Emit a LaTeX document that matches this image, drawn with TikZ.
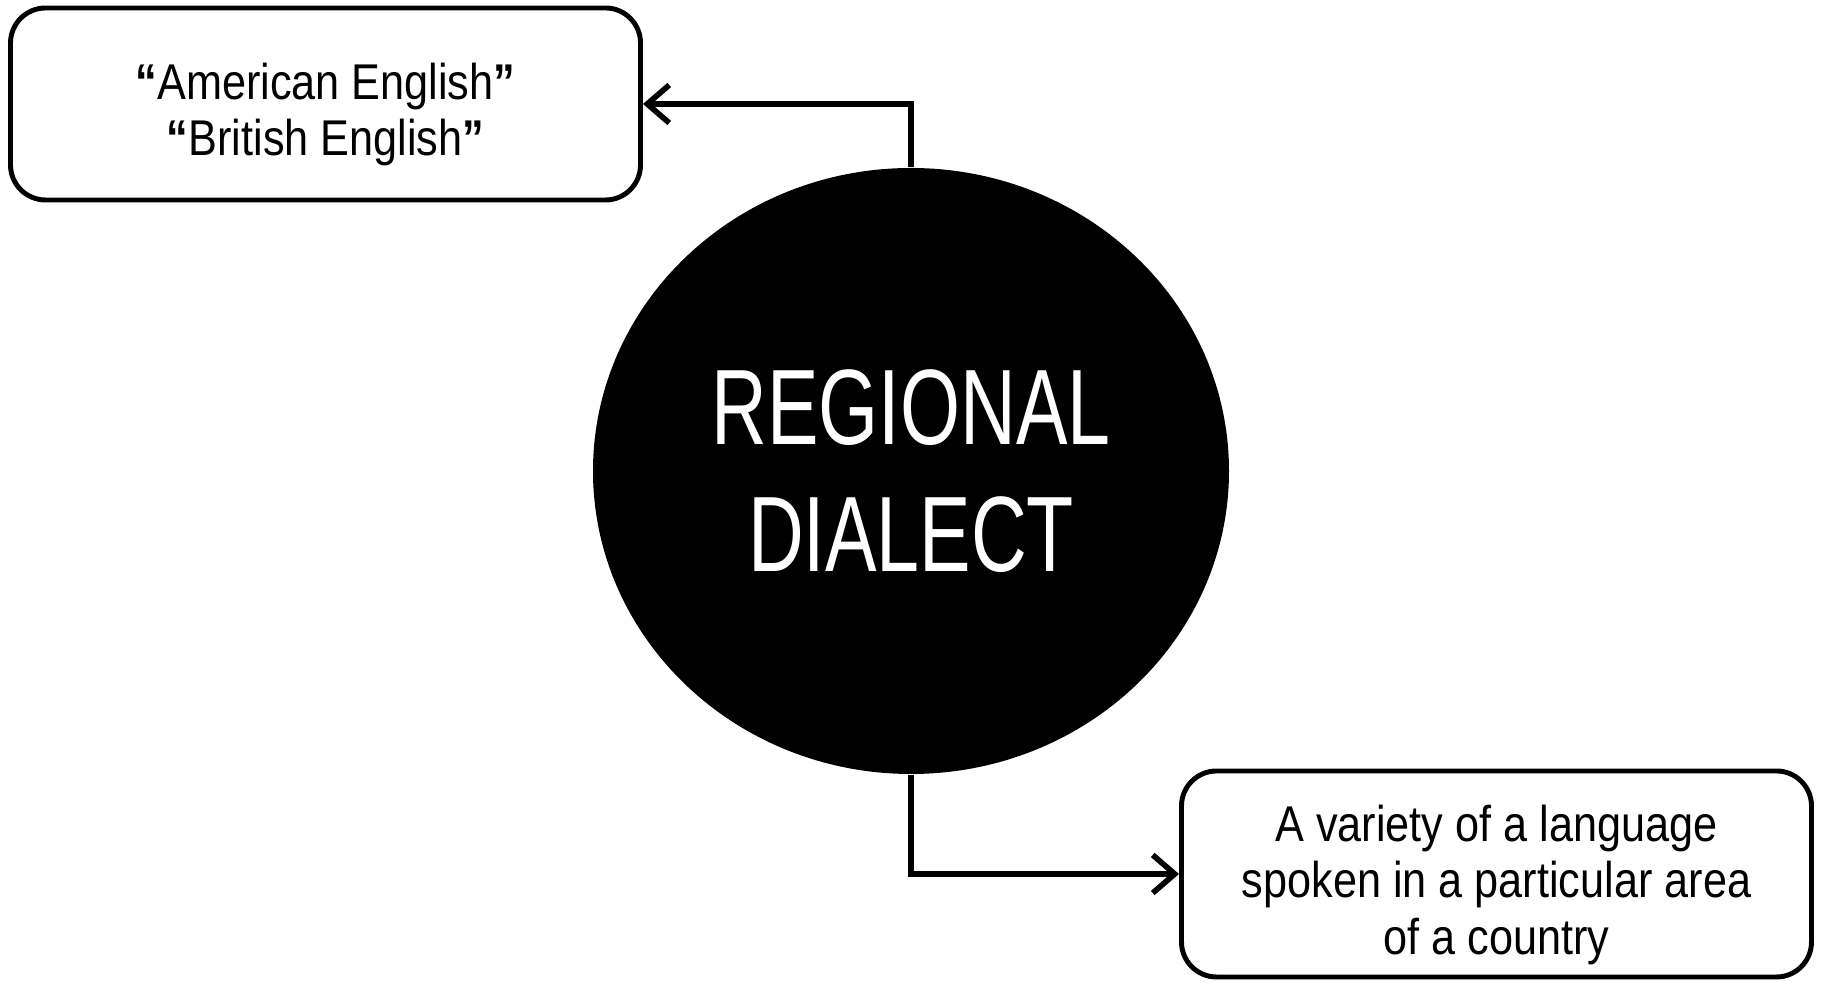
\documentclass[tikz,border=0pt]{standalone}
\usepackage{fontspec}
\setmainfont{Liberation Sans}
\newfontfamily\boxfont{Liberation Sans}[FakeStretch=0.86]
\newfontfamily\bigfont{Liberation Sans}[FakeStretch=0.72]
\usetikzlibrary{shapes.geometric,arrows.meta}

\begin{document}
\begin{tikzpicture}[
    infobox/.style={draw, line width=1.4pt, rounded corners=0.35cm, align=center, fill=white,
      font=\boxfont\fontsize{14.3}{16}\selectfont},
    link/.style={line width=1.6pt, -{Straight Barb[length=0.22cm, width=0.38cm, line width=1.6pt]}}]
      \useasboundingbox (0,0) rectangle (18.23,9.82);

      \node[ellipse, fill=black, minimum width=6.36cm, minimum height=6.06cm, inner sep=0pt,
        text=white, align=center, font=\bigfont\fontsize{30.5}{36.2}\selectfont] (dialect) at (9.11,5.11) {REGIONAL\\DIALECT};
      \node[infobox, minimum width=6.30cm, minimum height=1.92cm] (examples) at (3.255,8.78)
        {\rule{0pt}{0.58cm}{\bfseries “}American English{\bfseries ”}\\{\bfseries “}British English{\bfseries ”}};
      \node[infobox, minimum width=6.30cm, minimum height=2.06cm] (meaning) at (14.965,1.08)
        {\rule{0pt}{0.58cm}A variety of a language\\spoken in a particular area\\of a country};

      \draw[link] (dialect.north) |- (examples.east);
      \draw[link] (dialect.south) |- (meaning.west);
    \end{tikzpicture}
\end{document}
